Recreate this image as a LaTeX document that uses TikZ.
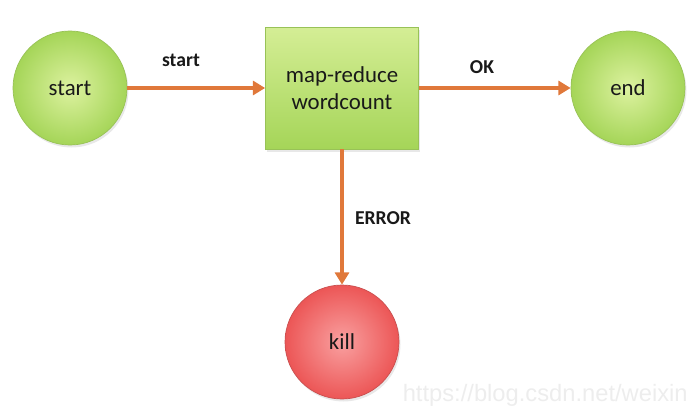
\documentclass[tikz,border=0pt]{standalone}
\usepackage{fontspec}
\setmainfont{Carlito}
\newfontfamily\wmfont{Liberation Sans}
\usetikzlibrary{positioning,arrows.meta,shadows}

\definecolor{gin}{HTML}{DDF2A0}
\definecolor{gout}{HTML}{A5D558}
\definecolor{gline}{HTML}{98C257}
\definecolor{rin}{HTML}{F9A0A0}
\definecolor{rout}{HTML}{EC5656}
\definecolor{rline}{HTML}{C95050}
\definecolor{arr}{HTML}{E0783A}

\tikzset{
    state/.style={circle, draw=gline, thin, minimum size=2.28cm, inner sep=0pt,
        shade, inner color=gin, outer color=gout,
        drop shadow={opacity=0.18, shadow xshift=0.03cm, shadow yshift=-0.05cm},
        font=\fontsize{13}{15}\selectfont, text=black!90},
    killstate/.style={state, draw=rline, inner color=rin, outer color=rout},
    action/.style={rectangle, draw=gline, thin, minimum width=3.06cm, minimum height=2.44cm,
        align=center, shade, top color=gin!85!gout, bottom color=gout,
        drop shadow={opacity=0.18, shadow xshift=0.03cm, shadow yshift=-0.05cm},
        font=\fontsize{13}{15.5}\selectfont, text=black!90},
    trans/.style={draw=arr, line width=2.3pt, -{Triangle[length=7pt, width=8pt]}},
    lbl/.style={font=\bfseries\fontsize{11.2}{13}\selectfont, text=black!90}
}

\begin{document}
\begin{tikzpicture}
        \useasboundingbox (0,0) rectangle (13.76,8.16);
        % Nodes
        \node (n1) at (1.40,6.40) [state] {start};
        \node (n2) at (6.84,6.40) [action] {map-reduce\\wordcount};
        \node (n3) at (12.56,6.40) [state] {end};
        \node (n4) at (6.84,1.32) [killstate] {kill};
        % Labels
        \node (l1) at (3.62,6.96) [lbl] {start};
        \node (l2) at (9.64,6.82) [lbl] {OK};
        \node (l3) at (7.66,3.80) [lbl] {ERROR};
        \node (wm) at (13.76,0.26) [anchor=east, inner sep=0pt, text=black!7,
            font=\wmfont\fontsize{13.5}{15}\selectfont] {https://blog.csdn.net/weixin};

        % Edges
        \draw[trans] (n1) -- (n2);
        \draw[trans] (n2) -- (n3);
        \draw[trans] (n2) -- (n4);
    \end{tikzpicture}
\end{document}
